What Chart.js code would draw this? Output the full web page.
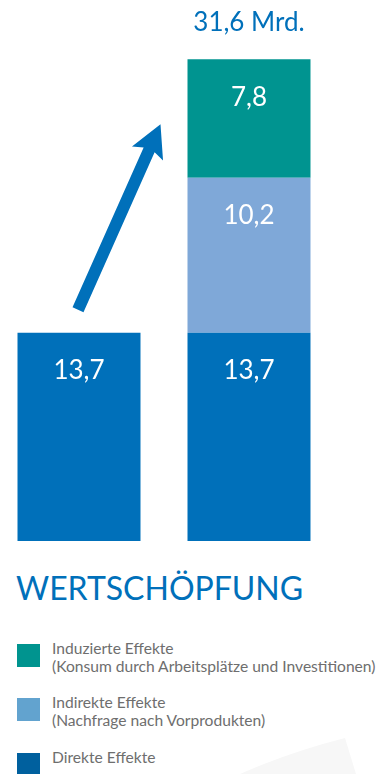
<!DOCTYPE html>
<html>
<head>
<meta charset="utf-8">
<script src="https://cdn.jsdelivr.net/npm/chart.js@4/dist/chart.umd.min.js"></script>
<style>
  html, body { margin:0; padding:0; background:#fff; }
  body { width:390px; height:774px; position:relative; overflow:hidden; font-family: Lato, "Open Sans", sans-serif; }
  #wrap { position:absolute; left:-6px; top:0; width:396px; height:541px; }
  #title { position:absolute; left:16px; top:568px; font-size:32px; color:#0070BA; font-weight:400; white-space:nowrap; }
  .item { position:absolute; left:17px; }
  .sw { position:absolute; left:0; top:0; width:23px; height:23px; }
  .txt { position:absolute; left:35px; top:-5px; font-size:15.6px; line-height:18px; color:#6e6e6e; white-space:nowrap; }
  #deco { position:absolute; left:0; top:0; width:390px; height:774px; pointer-events:none; }
</style>
</head>
<body>
<svg id="deco" width="390" height="774"><path d="M240 774 Q290 752 345 738 L356 774 Z" fill="#f7f7f7"/></svg>
<div id="wrap"><canvas id="c"></canvas></div>
<div id="title"></div>
<div id="legend"></div>
<script>
const categories = ["Direkt", "Gesamt"];
const direkteEffekte = [13.7, 13.7];
const indirekteEffekte = [null, 10.2];
const induzierteEffekte = [null, 7.8];
const totalLabel = "31,6 Mrd.";
const titleText = "WERTSCHÖPFUNG";
const legendLabels = [
  ["Induzierte Effekte", "(Konsum durch Arbeitsplätze und Investitionen)"],
  ["Indirekte Effekte", "(Nachfrage nach Vorprodukten)"],
  ["Direkte Effekte"]
];

const barColors = ["#0070BA", "#7FA8D8", "#009490"];
const legendColors = ["#00948F", "#62A3CF", "#00609E"];

document.getElementById("title").textContent = titleText;
const legendTops = [644, 698, 753];
const lg = document.getElementById("legend");
legendLabels.forEach((lines, i) => {
  const d = document.createElement("div");
  d.className = "item"; d.style.top = legendTops[i] + "px";
  const s = document.createElement("div"); s.className = "sw"; s.style.background = legendColors[i];
  const t = document.createElement("div"); t.className = "txt"; t.innerHTML = lines.join("<br>");
  d.appendChild(s); d.appendChild(t); lg.appendChild(d);
});

const fmt = v => String(v).replace(".", ",");

const overlay = {
  id: "overlay",
  afterDatasetsDraw(chart) {
    const ctx = chart.ctx;
    ctx.save();
    ctx.textAlign = "center";
    ctx.textBaseline = "middle";
    ctx.fillStyle = "#fff";
    ctx.font = "26px Lato";
    chart.data.datasets.forEach((ds, di) => {
      const meta = chart.getDatasetMeta(di);
      meta.data.forEach((el, i) => {
        const v = ds.data[i];
        if (v == null) return;
        ctx.fillText(fmt(v), el.x, el.y + 38);
      });
    });
    const topMeta = chart.getDatasetMeta(2).data[1];
    ctx.fillStyle = "#0070BA";
    ctx.fillText(totalLabel, topMeta.x, topMeta.y - 37);
    const b0 = chart.getDatasetMeta(0).data[0];
    const b1 = chart.getDatasetMeta(0).data[1];
    const tx = b0.x - 1, ty = b0.y - 23;
    const hx = b1.x - b1.width / 2 - 27, hy = topMeta.y + 65;
    const ang = Math.atan2(hy - ty, hx - tx);
    const len = Math.hypot(hx - tx, hy - ty);
    ctx.translate(tx, ty);
    ctx.rotate(ang);
    ctx.fillStyle = "#0070BA";
    const sw = 6, hl = 32, hw = 17;
    ctx.beginPath();
    ctx.moveTo(0, -sw);
    ctx.lineTo(len - hl + 4, -sw);
    ctx.lineTo(len - hl, -hw);
    ctx.lineTo(len, 0);
    ctx.lineTo(len - hl, hw);
    ctx.lineTo(len - hl + 4, sw);
    ctx.lineTo(0, sw);
    ctx.closePath();
    ctx.fill();
    ctx.restore();
  }
};

new Chart(document.getElementById("c"), {
  type: "bar",
  data: {
    labels: categories,
    datasets: [
      { label: legendLabels[2][0], data: direkteEffekte, backgroundColor: barColors[0] },
      { label: legendLabels[1][0], data: indirekteEffekte, backgroundColor: barColors[1] },
      { label: legendLabels[0][0], data: induzierteEffekte, backgroundColor: barColors[2] }
    ]
  },
  options: {
    responsive: true,
    maintainAspectRatio: false,
    animation: false,
    layout: { padding: { left: 0, right: 56, top: 0, bottom: 0 } },
    datasets: { bar: { barPercentage: 1, categoryPercentage: 0.7235, borderWidth: 0 } },
    plugins: { legend: { display: false }, tooltip: { enabled: false } },
    scales: {
      x: { stacked: true, display: false },
      y: { stacked: true, display: false, min: 0, max: 35.6 }
    }
  },
  plugins: [overlay]
});
</script>
</body>
</html>
